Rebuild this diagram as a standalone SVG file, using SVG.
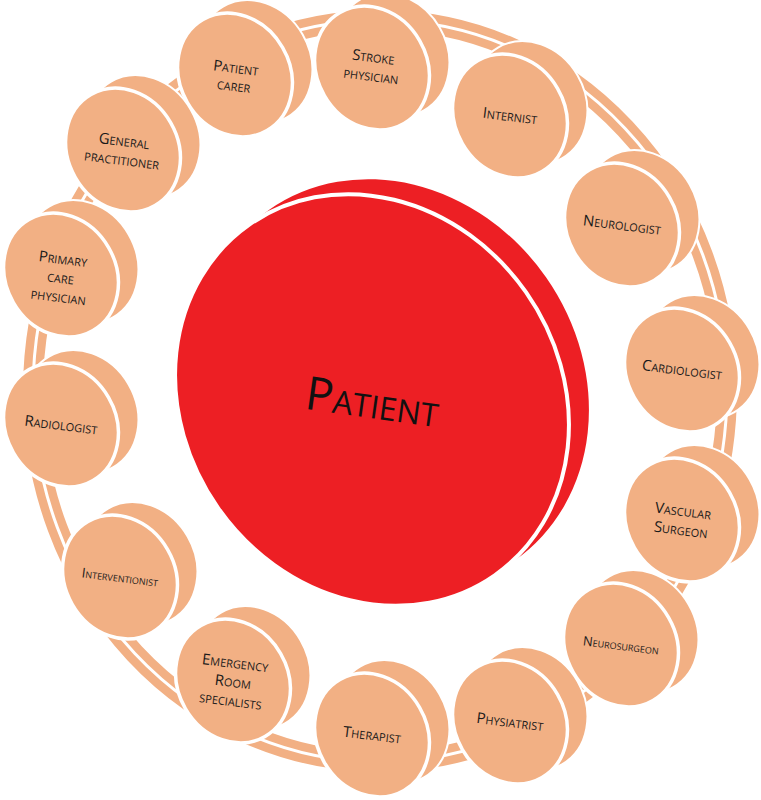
<svg xmlns="http://www.w3.org/2000/svg" width="761" height="800" viewBox="0 0 761 800">
<style>
.bk{fill:#F2B084;stroke:#fff;stroke-width:2}
.fr{fill:#F2B084;stroke:#fff;stroke-width:3.5}
.t{font-family:"Open Sans","DejaVu Sans",sans-serif;font-size:15px;font-variant:small-caps;fill:#1a1a1a;text-anchor:middle}
</style>
<rect width="761" height="800" fill="#fff"/>
<g id="connectors">
<ellipse cx="380" cy="391" rx="347" ry="371" fill="none" stroke="#F2B084" stroke-width="20"/>
<ellipse cx="380" cy="391" rx="347" ry="371" fill="none" stroke="#fff" stroke-width="3"/>
</g>
<g id="patient">
<ellipse cx="392" cy="385" rx="214" ry="188" transform="rotate(55 392 385)" fill="#ED1F24"/>
<ellipse cx="372" cy="400" rx="214" ry="188" transform="rotate(55 372 400)" fill="#ED1F24" stroke="#fff" stroke-width="4"/>
<text x="372" y="418" transform="rotate(8 372 405)" font-family="Open Sans, DejaVu Sans, sans-serif" font-size="46" font-variant="small-caps" text-anchor="middle" fill="#111">Patient</text>
</g>
<g id="n-patient-carer" transform="translate(235 75)">
<ellipse class="bk" cx="20" cy="-13" rx="64" ry="55" transform="rotate(60 20 -13)"/>
<ellipse class="fr" rx="64" ry="55" transform="rotate(60)"/>
<text class="t" transform="rotate(7)"><tspan x="0" y="-2">Patient</tspan><tspan x="0" y="16">carer</tspan></text>
</g>
<g id="n-stroke-physician" transform="translate(372 68)">
<ellipse class="bk" cx="20" cy="-13" rx="64" ry="55" transform="rotate(60 20 -13)"/>
<ellipse class="fr" rx="64" ry="55" transform="rotate(60)"/>
<text class="t" transform="rotate(7)"><tspan x="0" y="-6">Stroke</tspan><tspan x="0" y="13">physician</tspan></text>
</g>
<g id="n-internist" transform="translate(510 116)">
<ellipse class="bk" cx="20" cy="-13" rx="64" ry="55" transform="rotate(60 20 -13)"/>
<ellipse class="fr" rx="64" ry="55" transform="rotate(60)"/>
<text class="t" transform="rotate(7)" x="0" y="5">Internist</text>
</g>
<g id="n-neurologist" transform="translate(622 225)">
<ellipse class="bk" cx="20" cy="-13" rx="64" ry="55" transform="rotate(60 20 -13)"/>
<ellipse class="fr" rx="64" ry="55" transform="rotate(60)"/>
<text class="t" transform="rotate(7)" x="0" y="5">Neurologist</text>
</g>
<g id="n-cardiologist" transform="translate(682 370)">
<ellipse class="bk" cx="20" cy="-13" rx="64" ry="55" transform="rotate(60 20 -13)"/>
<ellipse class="fr" rx="64" ry="55" transform="rotate(60)"/>
<text class="t" transform="rotate(7)" x="0" y="5">Cardiologist</text>
</g>
<g id="n-vascular-surgeon" transform="translate(682 520)">
<ellipse class="bk" cx="20" cy="-13" rx="64" ry="55" transform="rotate(60 20 -13)"/>
<ellipse class="fr" rx="64" ry="55" transform="rotate(60)"/>
<text class="t" transform="rotate(7)"><tspan x="0" y="-4">Vascular</tspan><tspan x="0" y="15">Surgeon</tspan></text>
</g>
<g id="n-neurosurgeon" transform="translate(621 645)">
<ellipse class="bk" cx="20" cy="-13" rx="64" ry="55" transform="rotate(60 20 -13)"/>
<ellipse class="fr" rx="64" ry="55" transform="rotate(60)"/>
<text class="t" style="font-size:13px" transform="rotate(7)" x="0" y="5">Neurosurgeon</text>
</g>
<g id="n-physiatrist" transform="translate(510 722)">
<ellipse class="bk" cx="20" cy="-13" rx="64" ry="55" transform="rotate(60 20 -13)"/>
<ellipse class="fr" rx="64" ry="55" transform="rotate(60)"/>
<text class="t" transform="rotate(7)" x="0" y="5">Physiatrist</text>
</g>
<g id="n-therapist" transform="translate(372 735)">
<ellipse class="bk" cx="20" cy="-13" rx="64" ry="55" transform="rotate(60 20 -13)"/>
<ellipse class="fr" rx="64" ry="55" transform="rotate(60)"/>
<text class="t" transform="rotate(7)" x="0" y="5">Therapist</text>
</g>
<g id="n-emergency-room" transform="translate(233 681)">
<ellipse class="bk" cx="20" cy="-13" rx="64" ry="55" transform="rotate(60 20 -13)"/>
<ellipse class="fr" rx="64" ry="55" transform="rotate(60)"/>
<text class="t" transform="rotate(7)"><tspan x="0" y="-13">Emergency</tspan><tspan x="0" y="6">Room</tspan><tspan x="0" y="25">specialists</tspan></text>
</g>
<g id="n-interventionist" transform="translate(120 577)">
<ellipse class="bk" cx="20" cy="-13" rx="64" ry="55" transform="rotate(60 20 -13)"/>
<ellipse class="fr" rx="64" ry="55" transform="rotate(60)"/>
<text class="t" style="font-size:13.5px" transform="rotate(7)" x="0" y="5">Interventionist</text>
</g>
<g id="n-radiologist" transform="translate(61 425)">
<ellipse class="bk" cx="20" cy="-13" rx="64" ry="55" transform="rotate(60 20 -13)"/>
<ellipse class="fr" rx="64" ry="55" transform="rotate(60)"/>
<text class="t" transform="rotate(7)" x="0" y="5">Radiologist</text>
</g>
<g id="n-primary-care" transform="translate(61 275)">
<ellipse class="bk" cx="20" cy="-13" rx="64" ry="55" transform="rotate(60 20 -13)"/>
<ellipse class="fr" rx="64" ry="55" transform="rotate(60)"/>
<text class="t" transform="rotate(7)"><tspan x="0" y="-11">Primary</tspan><tspan x="0" y="8">care</tspan><tspan x="0" y="27">physician</tspan></text>
</g>
<g id="n-general-practitioner" transform="translate(123 150)">
<ellipse class="bk" cx="20" cy="-13" rx="64" ry="55" transform="rotate(60 20 -13)"/>
<ellipse class="fr" rx="64" ry="55" transform="rotate(60)"/>
<text class="t" transform="rotate(7)"><tspan x="0" y="-4">General</tspan><tspan x="0" y="15">practitioner</tspan></text>
</g>
</svg>
